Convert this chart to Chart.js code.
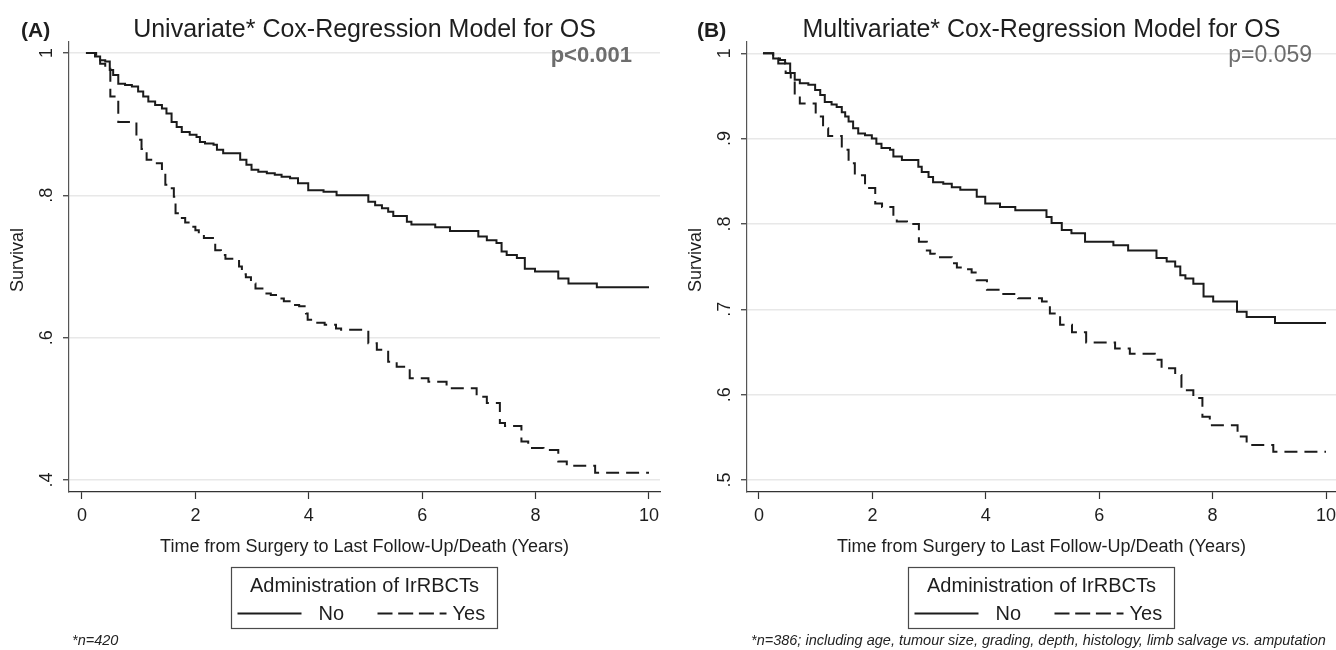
<!DOCTYPE html>
<html>
<head>
<meta charset="utf-8">
<script src="https://cdn.jsdelivr.net/npm/chart.js@4.4.1/dist/chart.umd.min.js"></script>
<style>
  html, body { margin: 0; padding: 0; background: #fff; }
  #wrap { position: relative; width: 1336px; height: 650px; overflow: hidden; }
  .panel { position: absolute; top: 0; width: 668px; height: 650px; }
</style>
</head>
<body>
<div id="wrap">
  <div class="panel" style="left:0"><canvas id="chartA" width="668" height="650"></canvas></div>
  <div class="panel" style="left:668px"><canvas id="chartB" width="668" height="650"></canvas></div>
</div>
<script>
// ---- data ----
const xTicks = [0, 2, 4, 6, 8, 10];
const yTicksA = [0.4, 0.6, 0.8, 1];
const yLabelsA = ['.4', '.6', '.8', '1'];
const yTicksB = [0.5, 0.6, 0.7, 0.8, 0.9, 1];
const yLabelsB = ['.5', '.6', '.7', '.8', '.9', '1'];

// (A) univariate - no IrRBCTs
const timeNoA = [0.07, 0.23, 0.32, 0.41, 0.49, 0.55, 0.64, 0.76, 0.88, 0.99, 1.08, 1.17, 1.29, 1.41, 1.49, 1.58, 1.67, 1.76, 1.90, 2.02,
  2.08, 2.17, 2.32, 2.38, 2.49, 2.79, 2.90, 2.99, 3.11, 3.26, 3.40, 3.52, 3.67, 3.81, 3.99, 4.26, 4.49, 5.05, 5.17, 5.29,
  5.40, 5.49, 5.73, 5.81, 6.23, 6.49, 6.99, 7.14, 7.31, 7.40, 7.49, 7.67, 7.81, 7.99, 8.40, 8.58, 9.08, 10.0];
const survNoA = [1, 0.995, 0.990, 0.988, 0.976, 0.969, 0.957, 0.955, 0.953, 0.946, 0.939, 0.932, 0.927, 0.922, 0.915, 0.903, 0.896, 0.889, 0.885, 0.882,
  0.875, 0.873, 0.871, 0.864, 0.859, 0.850, 0.843, 0.836, 0.833, 0.831, 0.829, 0.826, 0.824, 0.817, 0.807, 0.805, 0.800, 0.791, 0.786, 0.782,
  0.777, 0.771, 0.763, 0.759, 0.755, 0.750, 0.742, 0.737, 0.733, 0.721, 0.716, 0.712, 0.697, 0.693, 0.683, 0.676, 0.671, 0.671];

// (A) univariate - IrRBCTs given
const timeYesA = [0.07, 0.25, 0.32, 0.41, 0.50, 0.64, 0.96, 1.05, 1.14, 1.32, 1.41, 1.47, 1.53, 1.62, 1.65, 1.73, 1.82, 1.94, 2.00, 2.06,
  2.15, 2.35, 2.45, 2.53, 2.77, 2.82, 2.89, 2.98, 3.06, 3.20, 3.33, 3.45, 3.56, 3.71, 3.83, 3.95, 3.98, 4.13, 4.28, 4.48,
  4.57, 5.05, 5.20, 5.40, 5.55, 5.78, 6.11, 6.43, 6.96, 7.14, 7.37, 7.46, 7.75, 7.87, 8.14, 8.40, 8.55, 9.05, 10.0];
const survYesA = [1, 0.993, 0.985, 0.978, 0.939, 0.903, 0.878, 0.865, 0.850, 0.845, 0.831, 0.815, 0.810, 0.798, 0.775, 0.768, 0.762, 0.756, 0.751, 0.746,
  0.740, 0.723, 0.716, 0.711, 0.700, 0.689, 0.685, 0.676, 0.669, 0.662, 0.660, 0.655, 0.651, 0.646, 0.644, 0.634, 0.625, 0.621, 0.618, 0.613,
  0.611, 0.592, 0.583, 0.566, 0.559, 0.543, 0.538, 0.529, 0.517, 0.508, 0.480, 0.476, 0.454, 0.445, 0.442, 0.426, 0.420, 0.410, 0.410];

// (B) multivariate - no IrRBCTs
const timeNoB = [0.07, 0.25, 0.37, 0.46, 0.55, 0.63, 0.72, 0.87, 0.99, 1.08, 1.16, 1.28, 1.37, 1.46, 1.52, 1.58, 1.66, 1.75, 1.87, 1.99,
  2.07, 2.16, 2.31, 2.37, 2.52, 2.81, 2.87, 2.99, 3.07, 3.25, 3.40, 3.55, 3.84, 3.99, 4.25, 4.52, 5.07, 5.16, 5.34, 5.51,
  5.75, 6.25, 6.51, 7.01, 7.19, 7.34, 7.43, 7.52, 7.66, 7.84, 8.01, 8.43, 8.60, 9.10, 10.0];
const survNoB = [1, 0.994, 0.992, 0.988, 0.977, 0.969, 0.965, 0.963, 0.957, 0.951, 0.943, 0.940, 0.937, 0.931, 0.926, 0.920, 0.912, 0.906, 0.904, 0.900,
  0.894, 0.889, 0.887, 0.879, 0.875, 0.867, 0.861, 0.855, 0.849, 0.847, 0.843, 0.840, 0.832, 0.824, 0.820, 0.816, 0.808, 0.801, 0.793, 0.789,
  0.779, 0.775, 0.769, 0.760, 0.756, 0.750, 0.740, 0.736, 0.730, 0.715, 0.709, 0.697, 0.691, 0.684, 0.684];

// (B) multivariate - IrRBCTs given
const timeYesB = [0.07, 0.25, 0.34, 0.47, 0.56, 0.63, 0.72, 1.00, 1.13, 1.22, 1.46, 1.58, 1.69, 1.87, 2.05, 2.17, 2.37, 2.43, 2.61, 2.82,
  2.96, 3.02, 3.10, 3.40, 3.49, 3.63, 3.75, 3.84, 4.02, 4.28, 4.57, 4.99, 5.13, 5.31, 5.52, 5.77, 6.28, 6.54, 6.98, 7.10,
  7.34, 7.45, 7.66, 7.82, 7.95, 8.44, 8.60, 9.07, 10.0];
const survYesB = [1, 0.994, 0.988, 0.977, 0.969, 0.951, 0.941, 0.926, 0.912, 0.903, 0.887, 0.871, 0.857, 0.842, 0.824, 0.820, 0.807, 0.803, 0.800, 0.779,
  0.769, 0.765, 0.761, 0.754, 0.749, 0.747, 0.743, 0.734, 0.723, 0.718, 0.713, 0.709, 0.695, 0.682, 0.673, 0.661, 0.654, 0.648, 0.641, 0.631,
  0.623, 0.605, 0.596, 0.574, 0.564, 0.551, 0.541, 0.533, 0.533];

const FONT = '"Liberation Sans", Arial, Helvetica, sans-serif';
Chart.defaults.font.family = FONT;

const toPoints = (ts, ss) => ts.map((t, i) => ({ x: t, y: ss[i] }));

// titles, rotated y labels, boxed legend and footnote (Stata look)
const panelText = {
  id: 'panelText',
  afterDraw(chart, args, o) {
    const ctx = chart.ctx;
    const area = chart.chartArea;
    const ys = chart.scales.y;
    const cx = (area.left + area.right) / 2;
    ctx.save();
    ctx.fillStyle = '#1e1e1e';
    ctx.textBaseline = 'alphabetic';

    ctx.font = 'bold 21px ' + FONT;
    ctx.textAlign = 'left';
    ctx.fillText(o.letter, o.letterX, 37);

    ctx.font = '25px ' + FONT;
    ctx.textAlign = 'center';
    ctx.fillText(o.title, cx, 37);

    ctx.fillStyle = '#6d6d6d';
    ctx.font = o.pFont + FONT;
    ctx.textAlign = 'right';
    ctx.fillText(o.pText, area.right - o.pInset, 62);

    // y tick labels, vertical like Stata
    ctx.fillStyle = '#1e1e1e';
    ctx.font = '18px ' + FONT;
    o.yTicks.forEach((v, i) => {
      const y = ys.getPixelForValue(v);
      ctx.save();
      ctx.translate(area.left - 21.5, y);
      ctx.rotate(-Math.PI / 2);
      ctx.textAlign = 'center';
      ctx.textBaseline = 'middle';
      ctx.fillText(o.yLabels[i], 0, 0);
      ctx.restore();
    });

    // y axis title
    ctx.save();
    ctx.translate(area.left - 50.5, 260);
    ctx.rotate(-Math.PI / 2);
    ctx.textAlign = 'center';
    ctx.textBaseline = 'middle';
    ctx.fillText('Survival', 0, 0);
    ctx.restore();

    // legend box
    ctx.strokeStyle = '#4a4a4a';
    ctx.lineWidth = 1.2;
    ctx.strokeRect(cx - 133, 567.5, 266, 61);
    ctx.font = '20px ' + FONT;
    ctx.textAlign = 'center';
    ctx.fillText('Administration of IrRBCTs', cx, 592);
    ctx.textAlign = 'left';
    ctx.fillText('No', cx - 46, 620);
    ctx.fillText('Yes', cx + 88, 620);
    ctx.strokeStyle = '#1b1b1b';
    ctx.lineWidth = 2;
    ctx.beginPath();
    ctx.moveTo(cx - 127, 613.5);
    ctx.lineTo(cx - 63, 613.5);
    ctx.stroke();
    ctx.setLineDash([15, 5.7]);
    ctx.beginPath();
    ctx.moveTo(cx + 13, 613.5);
    ctx.lineTo(cx + 82, 613.5);
    ctx.stroke();
    ctx.setLineDash([]);

    ctx.font = 'italic 14.5px ' + FONT;
    ctx.fillStyle = '#222';
    ctx.fillText(o.note, o.noteX, 645);
    ctx.restore();
  }
};

function makeChart(id, p) {
  return new Chart(document.getElementById(id), {
    type: 'line',
    data: {
      datasets: [
        { label: 'No', data: toPoints(p.tNo, p.sNo), borderColor: '#1b1b1b', borderWidth: 2,
          stepped: true, pointRadius: 0, fill: false },
        { label: 'Yes', data: toPoints(p.tYes, p.sYes), borderColor: '#1b1b1b', borderWidth: 2,
          borderDash: [13, 7], stepped: true, pointRadius: 0, fill: false }
      ]
    },
    options: {
      responsive: false,
      animation: false,
      events: [],
      layout: { padding: { top: 42, right: p.padRight, left: 0, bottom: 0 } },
      plugins: {
        legend: { display: false },
        tooltip: { enabled: false },
        panelText: p.text
      },
      scales: {
        x: {
          type: 'linear', min: p.xMin, max: p.xMax,
          afterBuildTicks: s => { s.ticks = xTicks.map(v => ({ value: v })); },
          afterFit: s => { s.height = 158; s.paddingLeft = 0; s.paddingRight = 0; },
          grid: { drawOnChartArea: false, tickLength: 7, tickColor: '#333', tickWidth: 1.2 },
          border: { display: true, color: '#333', width: 1.2 },
          ticks: { color: '#1e1e1e', font: { size: 18 }, padding: 6, maxRotation: 0, autoSkip: false },
          title: { display: true, text: 'Time from Surgery to Last Follow-Up/Death (Years)', color: '#1e1e1e',
                   font: { size: 18 }, padding: { top: 0, bottom: 92 } }
        },
        y: {
          type: 'linear', min: p.yMin, max: p.yMax,
          afterBuildTicks: s => { s.ticks = p.text.yTicks.map(v => ({ value: v })); },
          afterFit: s => { s.width = p.axisX; s.paddingTop = 0; s.paddingBottom = 0; },
          grid: { color: '#e8e8e8', lineWidth: 1.5, tickLength: 6, tickColor: '#333', tickWidth: 1.2 },
          border: { display: true, color: '#555', width: 1.2 },
          ticks: { display: false },
          title: { display: false }
        }
      }
    },
    plugins: [panelText]
  });
}

makeChart('chartA', {
  tNo: timeNoA, sNo: survNoA, tYes: timeYesA, sYes: survYesA,
  xMin: -0.229, xMax: 10.194, yMin: 0.3831, yMax: 1.0155,
  padRight: 8, axisX: 69,
  text: {
    letter: '(A)', letterX: 21, title: 'Univariate* Cox-Regression Model for OS',
    pText: 'p<0.001', pFont: 'bold 22px ', pInset: 28,
    yTicks: yTicksA, yLabels: yLabelsA, note: '*n=420', noteX: 72
  }
});

makeChart('chartB', {
  tNo: timeNoB, sNo: survNoB, tYes: timeYesB, sYes: survYesB,
  xMin: -0.2116, xMax: 10.176, yMin: 0.4859, yMax: 1.0132,
  padRight: 0, axisX: 79,
  text: {
    letter: '(B)', letterX: 29, title: 'Multivariate* Cox-Regression Model for OS',
    pText: 'p=0.059', pFont: '23px ', pInset: 24,
    yTicks: yTicksB, yLabels: yLabelsB,
    note: '*n=386; including age, tumour size, grading, depth, histology, limb salvage vs. amputation', noteX: 83
  }
});
</script>
</body>
</html>
